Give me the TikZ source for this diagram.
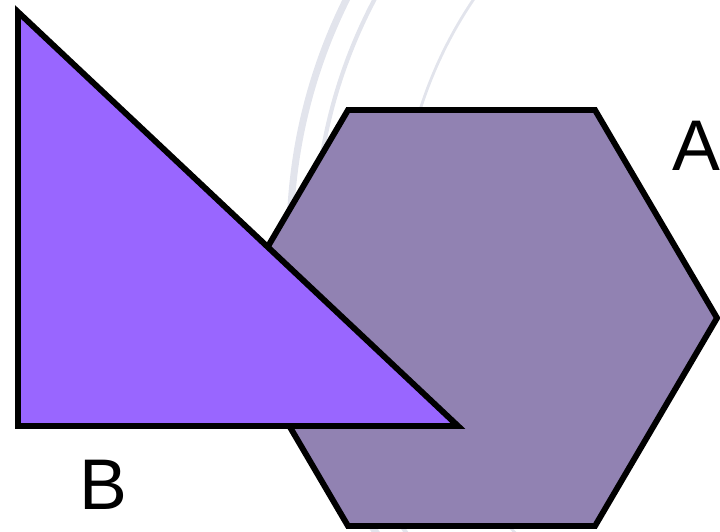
\documentclass[tikz,border=0pt]{standalone}
\usepackage{fontspec}
\setmainfont{Liberation Sans}
\definecolor{hexfill}{HTML}{9182B2}
\definecolor{trifill}{HTML}{9966FF}
\definecolor{sealgray}{HTML}{E2E4EC}
\begin{document}
\begin{tikzpicture}[x=0.025cm,y=-0.025cm,line join=miter,
  shapeline/.style={draw=black,line width=4.2pt},
  biglabel/.style={font=\fontsize{51}{60}\selectfont,inner sep=0pt}]
\useasboundingbox (0,0) rectangle (720,531);
% faint seal in the background
\begin{scope}
\clip (0,0) rectangle (720,531);
\draw[sealgray,line width=5pt] (830,240) circle (540);
\draw[sealgray,line width=3pt] (830,240) circle (515);
\draw[sealgray,line width=2pt] (830,240) circle (430);
\end{scope}
% hexagon A
\draw[shapeline,fill=hexfill] (348,110) -- (595,110) -- (717,318) -- (595,526) -- (348,526) -- (226,318) -- cycle;
% triangle B
\draw[shapeline,fill=trifill] (18,12) -- (18,426) -- (458,426) -- cycle;
\node[biglabel] (labA) at (696,146) {A};
\node[biglabel] (labB) at (103,485) {B};
\end{tikzpicture}
\end{document}
